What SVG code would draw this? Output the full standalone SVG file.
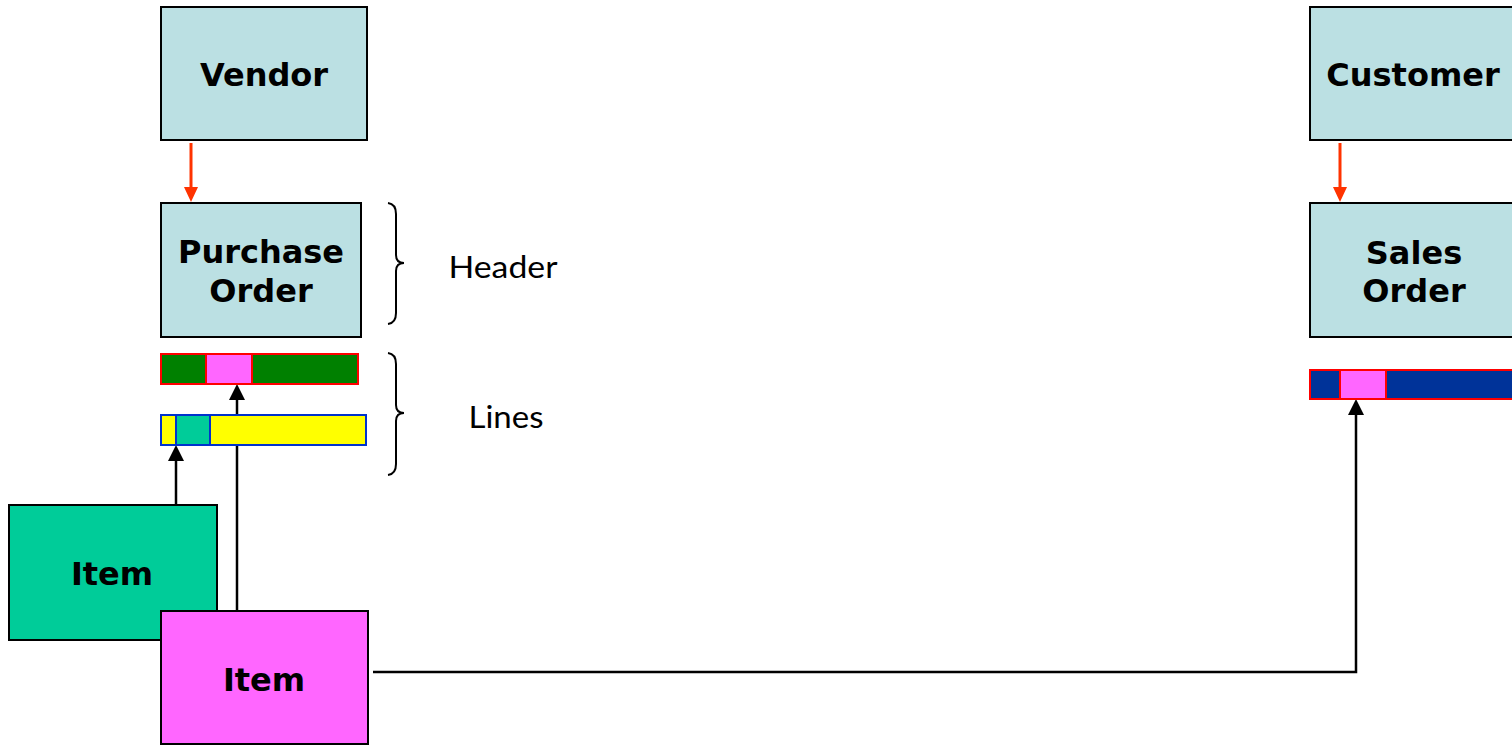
<svg xmlns="http://www.w3.org/2000/svg" width="1512" height="745" viewBox="0 0 1512 745">
<style>
.box{fill:#BBE0E3;stroke:#000;stroke-width:2}
.lbl{font-family:"DejaVu Sans",Verdana,sans-serif;font-weight:bold;font-size:32px;fill:#000;text-anchor:middle}
.note{font-family:Lato,"Open Sans",sans-serif;font-size:31px;fill:#000;text-anchor:middle}
.red{stroke:#FF3300;stroke-width:3;fill:none}
.blk{stroke:#000;stroke-width:2.5;fill:none}
.brace{stroke:#000;stroke-width:2;fill:none}
</style>
<g id="connectors">
<line class="red" x1="191" y1="143" x2="191" y2="189"/>
<path d="M184,187 L198,187 L191,202 z" fill="#FF3300"/>
<line class="red" x1="1340" y1="143" x2="1340" y2="189"/>
<path d="M1333,187 L1347,187 L1340,202 z" fill="#FF3300"/>
<line class="blk" x1="176" y1="505" x2="176" y2="458"/>
<path d="M176,445 L184,461 L168,461 z" fill="#000"/>
<line class="blk" x1="237" y1="611" x2="237" y2="397"/>
<path d="M237,384 L245,400 L229,400 z" fill="#000"/>
<polyline class="blk" points="373,672 1356,672 1356,413"/>
<path d="M1356,399 L1364,415 L1348,415 z" fill="#000"/>
</g>
<g id="vendor"><rect class="box" x="161" y="7" width="206" height="133"/><text class="lbl" x="264" y="86">Vendor</text></g>
<g id="purchase-order"><rect class="box" x="161" y="203" width="200" height="134"/><text class="lbl" x="261" y="263">Purchase</text><text class="lbl" x="261" y="302">Order</text></g>
<g id="po-line-1"><rect x="161" y="354" width="197" height="30" fill="#008000" stroke="#FF0000" stroke-width="2"/><rect x="206" y="354" width="46" height="30" fill="#FF66FF" stroke="#FF0000" stroke-width="2"/></g>
<g id="po-line-2"><rect x="161" y="415" width="205" height="30" fill="#FFFF00" stroke="#0033CC" stroke-width="2"/><rect x="176" y="415" width="34" height="30" fill="#00CC99" stroke="#0033CC" stroke-width="2"/></g>
<g id="header-brace"><path class="brace" d="M388,203 Q396,204 396,214 L396,255 Q396,263 404,263 Q396,263 396,271 L396,313 Q396,323 388,324"/><text class="note" x="503" y="278" textLength="109" lengthAdjust="spacingAndGlyphs">Header</text></g>
<g id="lines-brace"><path class="brace" d="M388,353 Q396,354 396,364 L396,405 Q396,413 404,413 Q396,413 396,421 L396,464 Q396,474 388,475"/><text class="note" x="506" y="428" textLength="75" lengthAdjust="spacingAndGlyphs">Lines</text></g>
<g id="item-green"><rect x="9" y="505" width="208" height="135" fill="#00CC99" stroke="#000" stroke-width="2"/><text class="lbl" x="112" y="585">Item</text></g>
<g id="item-pink"><rect x="161" y="611" width="207" height="133" fill="#FF66FF" stroke="#000" stroke-width="2"/><text class="lbl" x="264" y="691">Item</text></g>
<g id="customer"><rect class="box" x="1310" y="7" width="210" height="133"/><text class="lbl" x="1413" y="86">Customer</text></g>
<g id="sales-order"><rect class="box" x="1310" y="203" width="210" height="134"/><text class="lbl" x="1414" y="264">Sales</text><text class="lbl" x="1414" y="302">Order</text></g>
<g id="so-line"><rect x="1310" y="370" width="210" height="29" fill="#003399" stroke="#FF0000" stroke-width="2"/><rect x="1340" y="370" width="46" height="29" fill="#FF66FF" stroke="#FF0000" stroke-width="2"/></g>
</svg>
